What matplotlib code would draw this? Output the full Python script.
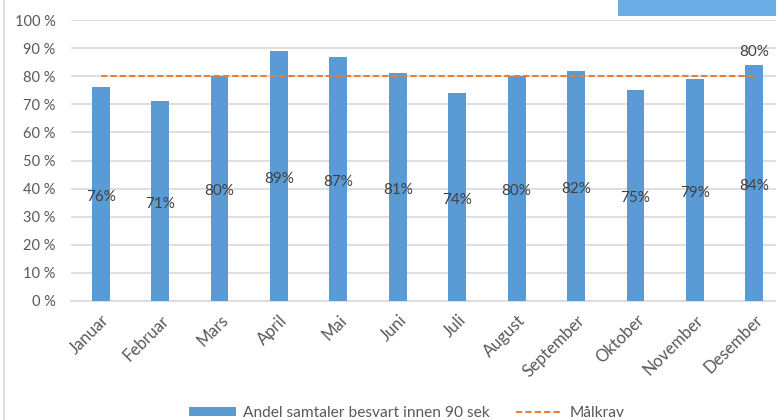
import matplotlib
matplotlib.use('Agg')

import matplotlib.pyplot as plt
from matplotlib.patches import Patch, Rectangle
from matplotlib.lines import Line2D
from matplotlib.transforms import ScaledTranslation

months = ["Januar", "Februar", "Mars", "April", "Mai", "Juni", "Juli",
          "August", "September", "Oktober", "November", "Desember"]
answered = [0.76, 0.71, 0.80, 0.89, 0.87, 0.81, 0.74, 0.80, 0.82, 0.75, 0.79, 0.84]
target = [0.80] * 12
yticks = [0.0, 0.1, 0.2, 0.3, 0.4, 0.5, 0.6, 0.7, 0.8, 0.9, 1.0]

bar_color = "#5B9BD5"
line_color = "#ED7D31"
text_color = "#595959"

plt.rcParams['font.family'] = ['Lato', 'DejaVu Sans']

W, H = 776, 420
fig = plt.figure(figsize=(W / 100, H / 100), dpi=100)
ax = fig.add_axes([71 / W, (H - 301) / H, 713 / W, 281 / H])

x = list(range(len(months)))
ax.bar(x, answered, width=0.30, color=bar_color, zorder=3)
ax.plot(x, target, color=line_color, linestyle=(0, (3, 1.5)), linewidth=1.5, zorder=4)

for xi, v in zip(x, answered):
    ax.text(xi, v / 2 - 0.01, "%d%%" % round(v * 100), ha='center', va='center',
            fontsize=11, color="#404040", zorder=5)
ax.text(x[-1], 0.886, "%d%%" % round(target[-1] * 100), ha='center', va='center',
        fontsize=11, color="#404040")

ax.set_xlim(-0.5, len(months) - 0.5)
ax.set_ylim(0, 1.0)
ax.set_yticks(yticks)
ax.yaxis.set_major_formatter(matplotlib.ticker.FuncFormatter(lambda v, p: "%d %%" % round(v * 100)))
ax.grid(axis='y', color="#D9D9D9", linewidth=1.2, zorder=0)
for s in ['top', 'right', 'left']:
    ax.spines[s].set_visible(False)
ax.spines['bottom'].set_color("#D9D9D9")
ax.spines['bottom'].set_linewidth(1.2)
ax.tick_params(axis='both', length=0, colors=text_color)
ax.tick_params(axis='y', labelsize=10.5, pad=11)
ax.set_xticks(x)
ax.set_xticklabels(months, rotation=45, ha='right', va='center',
                   rotation_mode='anchor', fontsize=12)
ax.tick_params(axis='x', pad=12)
for lab in ax.get_xticklabels():
    lab.set_transform(lab.get_transform() + ScaledTranslation(6 / 100, 0, fig.dpi_scale_trans))

# legend at the bottom (cut off by the image edge)
handles = [Patch(facecolor=bar_color, edgecolor='none'),
           Line2D([0], [0], color=line_color, linestyle=(0, (3, 1.5)), linewidth=1.5)]
fig.legend(handles, ["Andel samtaler besvart innen 90 sek", "Målkrav"],
           loc='center', bbox_to_anchor=(407 / W, (H - 413) / H), ncol=2,
           frameon=False, fontsize=11.2, labelcolor=text_color,
           handlelength=3.0, handleheight=0.5, handletextpad=0.45, columnspacing=1.7)

# blue box top right and left border
fig.add_artist(Rectangle((618 / W, (H - 16) / H), 158 / W, 16 / H,
                         transform=fig.transFigure, facecolor="#6AADE4", edgecolor='none'))
fig.add_artist(Line2D([4 / W, 4 / W], [0, 1], transform=fig.transFigure,
                      color="#D9D9D9", linewidth=1.2))

fig.savefig("out.png", dpi=100)
